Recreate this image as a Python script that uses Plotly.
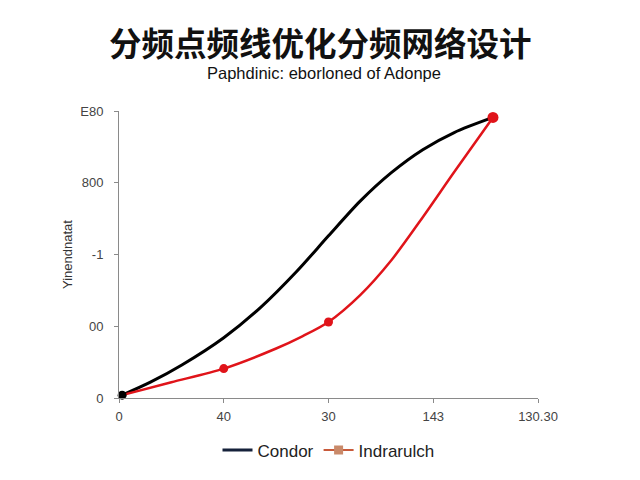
import plotly.graph_objects as go

x_ticks = [0, 1, 2, 3, 4]
x_tick_labels = ["0", "40", "30", "143", "130.30"]
y_ticks = [0, 1, 2, 3, 4]
y_tick_labels = ["0", "00", "-1", "800", "E80"]

condor_x = [0.03, 0.3, 0.6, 1.0, 1.35, 1.7, 2.0, 2.3, 2.6, 2.9, 3.2, 3.57]
condor_y = [0.04, 0.22, 0.46, 0.84, 1.26, 1.77, 2.26, 2.74, 3.14, 3.46, 3.70, 3.91]

ind_x = [0.03, 0.5, 1.0, 1.5, 1.75, 2.0, 2.3, 2.6, 2.9, 3.2, 3.57]
ind_y = [0.04, 0.22, 0.41, 0.69, 0.86, 1.06, 1.43, 1.92, 2.52, 3.15, 3.91]

ind_marker_x = [1.0, 2.0]
ind_marker_y = [0.41, 1.06]
end_x = [3.57]
end_y = [3.91]
start_x = [0.03]
start_y = [0.04]

fig = go.Figure()
fig.add_trace(go.Scatter(x=condor_x, y=condor_y, mode="lines",
                         line=dict(color="#000000", width=3, shape="spline", smoothing=0.8),
                         showlegend=False, cliponaxis=False))
fig.add_trace(go.Scatter(x=ind_x, y=ind_y, mode="lines",
                         line=dict(color="#e0141a", width=2.5, shape="spline", smoothing=0.8),
                         showlegend=False, cliponaxis=False))
fig.add_trace(go.Scatter(x=ind_marker_x, y=ind_marker_y, mode="markers",
                         marker=dict(color="#e0141a", size=9), showlegend=False, cliponaxis=False))
fig.add_trace(go.Scatter(x=end_x, y=end_y, mode="markers",
                         marker=dict(color="#e0141a", size=11), showlegend=False, cliponaxis=False))
fig.add_trace(go.Scatter(x=start_x, y=start_y, mode="markers",
                         marker=dict(color="#000000", size=9), showlegend=False, cliponaxis=False))
# legend entries
fig.add_trace(go.Scatter(x=[None], y=[None], mode="lines", name="Condor",
                         line=dict(color="#15213a", width=3)))
fig.add_trace(go.Scatter(x=[None], y=[None], mode="lines+markers", name="Indrarulch",
                         line=dict(color="#c85a3a", width=2),
                         marker=dict(color="#c98a6a", size=9, symbol="square")))

axis_common = dict(showgrid=False, zeroline=False, showline=True, linecolor="#8a8a8a",
                   linewidth=1, ticks="outside", ticklen=4, tickcolor="#8a8a8a", automargin=False,
                   tickfont=dict(family="Liberation Sans, Arial", size=13, color="#444444"))

fig.update_layout(
    width=640, height=480,
    paper_bgcolor="#ffffff", plot_bgcolor="#ffffff",
    margin=dict(l=111, r=110, t=103, b=90),
    xaxis=dict(range=[0, 4], tickvals=x_ticks, ticktext=x_tick_labels, ticklabelstandoff=2, **axis_common),
    yaxis=dict(range=[0, 4], tickvals=y_ticks, ticktext=y_tick_labels, ticklabelstandoff=8,
               title=dict(text="Yinendnatat", font=dict(family="Liberation Sans, Arial", size=13, color="#333333"),
                          standoff=4),
               **axis_common),
    legend=dict(orientation="h", x=0.5, xanchor="center", y=-0.12, yanchor="top",
                font=dict(family="Liberation Sans, Arial", size=17, color="#222222"),
                bgcolor="rgba(0,0,0,0)"),
    annotations=[
        dict(text="<b>分频点频线优化分频网络设计</b>", xref="paper", yref="paper",
             x=0.5, y=1.0, xshift=-8, yshift=70, xanchor="center", yanchor="middle", showarrow=False,
             font=dict(family="Noto Sans CJK SC", size=32.5, color="#111111")),
        dict(text="Paphdinic: eborloned of Adonpe", xref="paper", yref="paper",
             x=0.5, y=1.0, xshift=-5, yshift=38, xanchor="center", yanchor="middle", showarrow=False,
             font=dict(family="Liberation Sans, Arial", size=16.5, color="#111111")),
    ],
)

fig.write_html("out.html")
